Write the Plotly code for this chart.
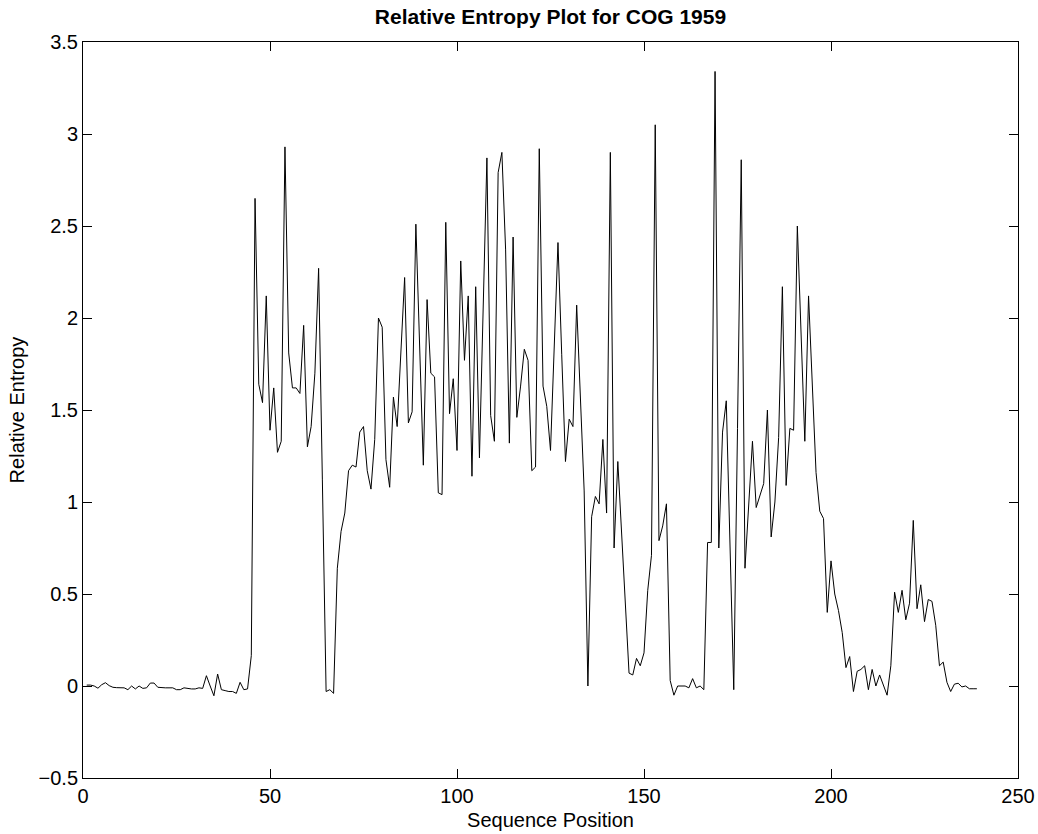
import plotly.graph_objects as go

positions = list(range(1, 240))

entropy = [
    0.005, 0.005, 0.0, -0.012, 0.007, 0.018, 0.002, -0.007, -0.009, -0.009,
    -0.01, -0.02, 0.0, -0.016, 0.0, -0.013, -0.01, 0.016, 0.016, -0.007,
    -0.01, -0.01, -0.01, -0.01, -0.02, -0.02, -0.01, -0.015, -0.016, -0.016,
    -0.01, -0.013, 0.056, 0.0, -0.053, 0.065, -0.02, -0.025, -0.03, -0.03,
    -0.04, 0.02, -0.02, -0.016, 0.165, 2.65, 1.64, 1.54, 2.12, 1.39,
    1.62, 1.27, 1.33, 2.93, 1.81, 1.62, 1.62, 1.59, 1.96, 1.30,
    1.41, 1.70, 2.27, 1.12, -0.03, -0.02, -0.04, 0.64, 0.84, 0.94,
    1.17, 1.20, 1.19, 1.38, 1.41, 1.17, 1.07, 1.34, 2.00, 1.95,
    1.23, 1.08, 1.57, 1.41, 1.82, 2.22, 1.43, 1.49, 2.51, 1.86,
    1.20, 2.10, 1.70, 1.68, 1.05, 1.04, 2.52, 1.48, 1.67, 1.28,
    2.31, 1.77, 2.12, 1.14, 2.17, 1.24, 2.02, 2.87, 1.47, 1.33,
    2.79, 2.90, 2.37, 1.32, 2.44, 1.46, 1.63, 1.83, 1.77, 1.17,
    1.19, 2.92, 1.63, 1.52, 1.28, 1.84, 2.41, 1.80, 1.22, 1.45,
    1.41, 2.07, 1.58, 1.06, 0.0, 0.92, 1.03, 0.99, 1.34, 0.94,
    2.90, 0.75, 1.22, 0.85, 0.48, 0.07, 0.06, 0.15, 0.11, 0.18,
    0.52, 0.71, 3.05, 0.79, 0.87, 0.99, 0.03, -0.05, 0.0, 0.0,
    0.0, -0.01, 0.04, -0.01, 0.0, -0.02, 0.78, 0.78, 3.34, 0.75,
    1.38, 1.55, 0.75, -0.02, 1.40, 2.86, 0.64, 1.00, 1.33, 0.97,
    1.03, 1.10, 1.50, 0.81, 1.00, 1.35, 2.17, 1.09, 1.40, 1.39,
    2.50, 1.90, 1.33, 2.12, 1.65, 1.16, 0.95, 0.91, 0.40, 0.68,
    0.50, 0.41, 0.29, 0.10, 0.16, -0.03, 0.08, 0.09, 0.11, -0.02,
    0.09, 0.0, 0.06, 0.01, -0.05, 0.11, 0.51, 0.40, 0.52, 0.36,
    0.45, 0.90, 0.42, 0.55, 0.35, 0.47, 0.46, 0.33, 0.11, 0.13,
    0.02, -0.03, 0.01, 0.015, -0.005, 0.0, -0.015, -0.015, -0.015,
]

x_ticks = [0, 50, 100, 150, 200, 250]
y_ticks = [-0.5, 0, 0.5, 1, 1.5, 2, 2.5, 3, 3.5]
y_tick_labels = ["\u22120.5", "0", "0.5", "1", "1.5", "2", "2.5", "3", "3.5"]

FONT = "Liberation Sans, Arial, Helvetica, sans-serif"

fig = go.Figure()
fig.add_trace(go.Scatter(
    x=positions, y=entropy, mode="lines",
    line=dict(color="black", width=1),
    showlegend=False, hoverinfo="x+y",
))

axis_common = dict(
    showline=True, linecolor="black", linewidth=1, mirror="ticks",
    ticks="inside", ticklen=9, tickwidth=1, tickcolor="black",
    showgrid=False, zeroline=False, automargin=False,
    tickfont=dict(family=FONT, size=20, color="black"),
)

fig.update_layout(
    width=1038, height=834,
    paper_bgcolor="white", plot_bgcolor="white",
    margin=dict(l=83, r=20, t=42, b=56, pad=0),
    font=dict(family=FONT, size=20, color="black"),
    title=dict(
        text="<b>Relative Entropy Plot for COG 1959</b>",
        xref="paper", x=0.5, xanchor="center",
        yref="container", y=1 - 17 / 834, yanchor="middle",
        font=dict(family=FONT, size=21, color="black"),
    ),
    xaxis=dict(
        range=[0, 250], tickvals=x_ticks,
        title=dict(text="Sequence Position", standoff=6,
                   font=dict(family=FONT, size=20, color="black")),
        **axis_common,
    ),
    yaxis=dict(
        range=[-0.5, 3.5], tickvals=y_ticks, ticktext=y_tick_labels,
        title=dict(text="Relative Entropy", standoff=8,
                   font=dict(family=FONT, size=20, color="black")),
        **axis_common,
    ),
)

fig.write_html(
    "out.html",
    config={"displayModeBar": False},
    post_script="document.body.style.margin='0';document.body.style.padding='0';",
)
